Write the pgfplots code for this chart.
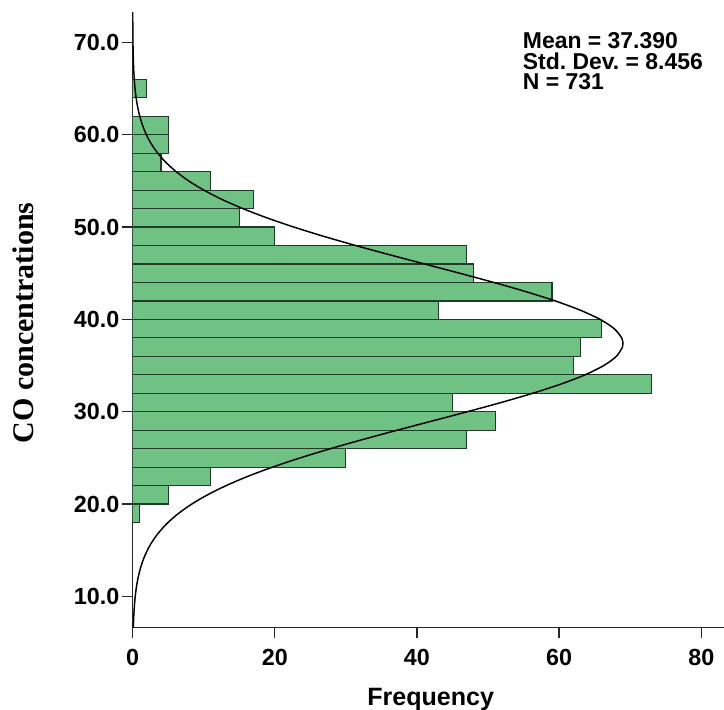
\documentclass[border=0pt]{standalone}
\usepackage{fontspec}
\setmainfont{Liberation Sans}
\newfontfamily\serifbold{Liberation Serif}
\usepackage{pgfplots}
\pgfplotsset{compat=1.18}
\definecolor{barfill}{RGB}{112,193,132}
\definecolor{baredge}{RGB}{30,60,40}
\frenchspacing
\begin{document}
\begin{tikzpicture}
\useasboundingbox (-99.5pt,-61pt) rectangle (443.5pt,470.8pt);
\begin{axis}[
  at={(0,0)}, anchor=south west,
  scale only axis,
  width=443.5pt, height=461.8pt,
  xmin=0, xmax=83.2, ymin=6.6, ymax=73.3,
  axis x line*=bottom, axis y line*=left,
  axis line style={black!85, line width=1.1pt},
  xtick={0,20,40,60,80},
  ytick={10,20,30,40,50,60,70},
  tick align=outside,
  major tick length=8pt,
  tick style={black!85, line width=1.0pt},
  /pgf/number format/assume math mode=true,
  ticklabel style={font=\fontsize{17.5}{18}\selectfont\bfseries},
  yticklabel style={/pgf/number format/.cd, fixed, fixed zerofill, precision=1, /tikz/xshift=1.5pt},
  xticklabel style={/pgf/number format/.cd, fixed, precision=0, /tikz/yshift=-4.5pt},
  xlabel={Frequency},
  xlabel style={font=\fontsize{18.8}{20}\selectfont\bfseries, at={(axis description cs:0.504,-0.1256)}, anchor=base},
  ylabel={CO concentrations},
  ylabel style={font=\serifbold\bfseries\fontsize{22.5}{24}\selectfont, at={(axis description cs:-0.168,0.495)}, anchor=base},
  clip=true,
]
\addplot[xbar interval, fill=barfill, draw=baredge, line width=0.9pt] coordinates {
(1,18) (5,20) (11,22) (30,24) (47,26) (51,28) (45,30) (73,32) (62,34) (63,36)
(66,38) (43,40) (59,42) (48,44) (47,46) (20,48) (15,50) (17,52) (11,54) (4,56)
(5,58) (5,60) (0,62) (2,64) (2,66)
};
\addplot[smooth, black, line width=1.1pt] coordinates {
(0.091,6.6) (0.108,7) (0.164,8) (0.246,9) (0.363,10) (0.529,11) (0.760,12) (1.077,13)
(1.504,14) (2.071,15) (2.812,16) (3.768,17) (4.977,18) (6.481,19) (8.32,20)
(10.54,21) (13.16,22) (16.21,23) (19.69,24) (23.58,25) (27.84,26) (32.42,27)
(37.24,28) (42.17,29) (47.09,30) (51.85,31) (56.29,32) (60.28,33) (63.66,34)
(66.28,35) (68.06,36) (68.91,37) (68.98,37.39) (68.80,38) (67.74,39) (65.77,40)
(62.97,41) (59.46,42) (55.36,43) (50.82,44) (46.01,45) (41.08,46) (36.16,47)
(31.39,48) (26.87,49) (22.69,50) (18.89,51) (15.51,52) (12.55,53) (10.02,54)
(7.88,55) (6.12,56) (4.685,57) (3.537,58) (2.632,59) (1.933,60) (1.400,61)
(0.999,62) (0.703,63) (0.488,64) (0.334,65) (0.225,66) (0.150,67) (0.0985,68)
(0.064,69) (0.041,70) (0.026,71) (0.016,72) (0.010,73) (0.008,73.3)
};
\node[anchor=north west, align=left, inner sep=0pt,
  font=\fontsize{17.2}{15.6}\selectfont\bfseries]
  at (axis description cs:0.6595,0.9675)
  {Mean = 37.390\\Std. Dev. = 8.456\\N = 731};
\end{axis}
\end{tikzpicture}
\end{document}
